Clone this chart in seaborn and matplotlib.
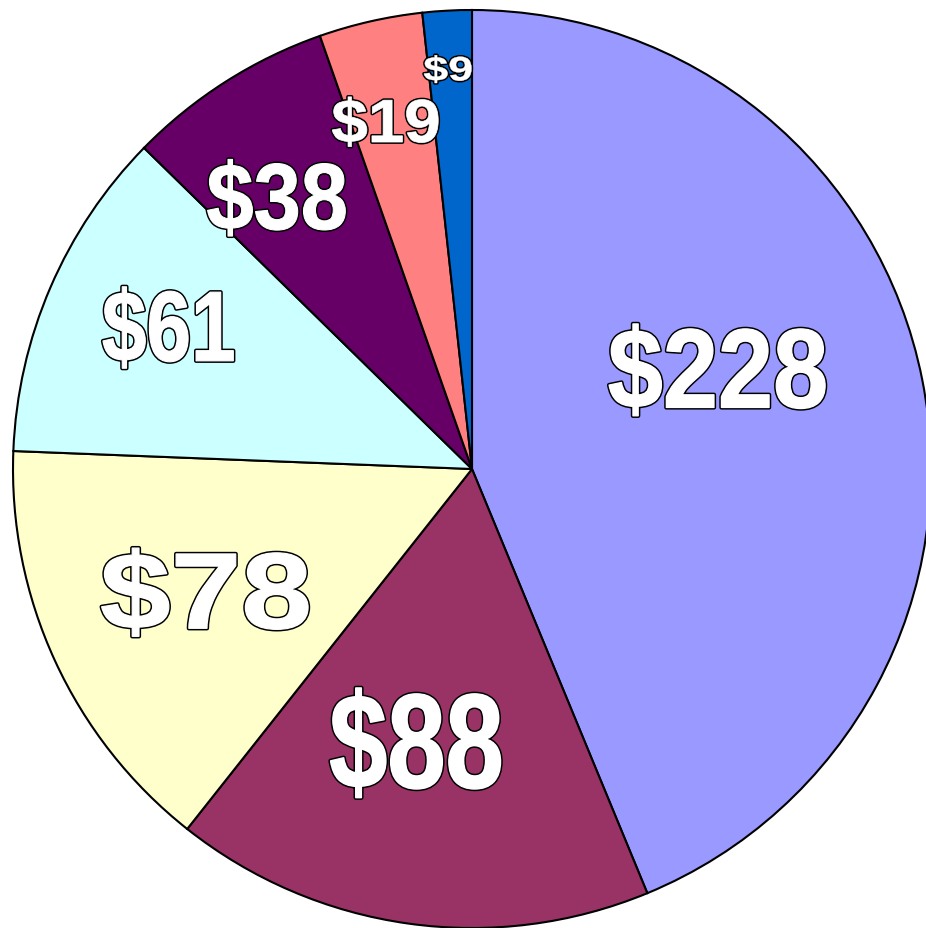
import matplotlib
matplotlib.use("Agg")
import matplotlib.pyplot as plt
from matplotlib.textpath import TextPath
from matplotlib.font_manager import FontProperties
from matplotlib.patches import PathPatch
from matplotlib.transforms import Affine2D
import seaborn as sns

sns.set_theme(style="white")

labels = ["$228", "$88", "$78", "$61", "$38", "$19", "$9"]
values = [228, 88, 78, 61, 38, 19, 9]
colors = ["#9999FF", "#993366", "#FFFFCC", "#CCFFFF", "#660066", "#FF8080", "#0066CC"]

# label placement in data units (pie radius = 1): centre x, baseline y,
# digit height and total width (labels are condensed in the original)
label_cx = [0.534, -0.123, -0.582, -0.662, -0.426, -0.189, -0.053]
label_base = [0.127, -0.702, -0.354, 0.229, 0.516, 0.707, 0.842]
label_h = [0.183, 0.217, 0.176, 0.163, 0.154, 0.102, 0.060]
label_w = [0.480, 0.380, 0.459, 0.293, 0.309, 0.239, 0.111]

W, H = 926, 929
DPI = 100
fig = plt.figure(figsize=(W / DPI, H / DPI), dpi=DPI)
fig.patch.set_facecolor("white")
cx, cy, r = 472, 470, 459
ax = fig.add_axes([(cx - r) / W, (H - cy - r) / H, 2 * r / W, 2 * r / H])
ax.pie(values, colors=colors, startangle=90, counterclock=False,
       wedgeprops=dict(edgecolor="black", linewidth=1.5), radius=1.0)

fp = FontProperties(family="Liberation Sans", weight="bold")
pt = 72.0 / DPI
for lab, x, b, h, w in zip(labels, label_cx, label_base, label_h, label_w):
    h_px = h * r
    thick_px = 0.015 * h_px         # a little extra white weight
    outer_px = thick_px + 3.0        # plus ~1.5px black outline each side
    shrink = outer_px / r            # data units taken by the strokes
    tp = TextPath((0, 0), lab, size=100, prop=fp)
    dp = TextPath((0, 0), lab[1:], size=100, prop=fp)
    ext = tp.get_extents()
    dext = dp.get_extents()
    sx = (w - shrink) / ext.width
    sy = (h - shrink) / dext.height
    tr = (Affine2D().translate(-(ext.x0 + ext.x1) / 2, -dext.y0)
          .scale(sx, sy).translate(x, b + shrink / 2) + ax.transData)
    ax.add_artist(PathPatch(tp, transform=tr, facecolor="white", edgecolor="black",
                            linewidth=outer_px * pt, joinstyle="round",
                            clip_on=False, zorder=5))
    ax.add_artist(PathPatch(tp, transform=tr, facecolor="white", edgecolor="white",
                            linewidth=thick_px * pt, joinstyle="round",
                            clip_on=False, zorder=6))

ax.set_xlim(-1, 1)
ax.set_ylim(-1, 1)
ax.set_aspect("equal")
ax.axis("off")

fig.savefig("out.png", dpi=DPI, facecolor="white")
